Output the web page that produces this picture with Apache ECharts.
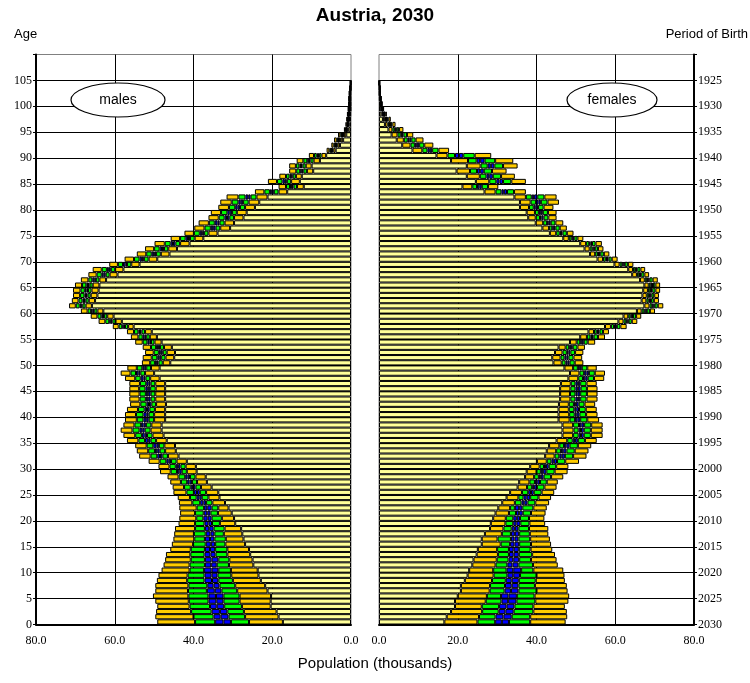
<!DOCTYPE html>
<html><head><meta charset="utf-8">
<script src="https://cdn.jsdelivr.net/npm/echarts@6/dist/echarts.min.js"></script>
<style>html,body{margin:0;padding:0;background:#fff}#c{width:750px;height:683px}</style>
</head><body><div id="c"></div>
<script>
const ages = [0,1,2,3,4,5,6,7,8,9,10,11,12,13,14,15,16,17,18,19,20,21,22,23,24,25,26,27,28,29,30,31,32,33,34,35,36,37,38,39,40,41,42,43,44,45,46,47,48,49,50,51,52,53,54,55,56,57,58,59,60,61,62,63,64,65,66,67,68,69,70,71,72,73,74,75,76,77,78,79,80,81,82,83,84,85,86,87,88,89,90,91,92,93,94,95,96,97,98,99,100,101,102,103,104];
const emptyTopRows = [105,106,107,108,109];
const xTicks = [0,20,40,60,80];
const projectionYear = 2030;

// Males: quantiles of population (thousands) by single age
const maleQ025 = [17.3,18.4,18.9,20.4,20.4,20.3,21.2,21.8,22.9,23.5,23.7,24.8,25.0,25.6,25.9,26.9,27.3,27.6,27.9,29.4,29.7,30.3,31.1,32.0,33.4,33.7,35.4,36.6,36.9,39.2,39.4,41.7,43.8,44.5,44.7,46.8,47.6,48.1,48.1,47.2,47.2,47.2,47.0,47.2,47.2,47.2,47.2,48.6,50.0,48.6,45.9,44.9,44.7,45.5,48.1,49.3,50.6,55.2,58.2,60.3,62.9,65.8,65.0,64.4,64.1,63.9,62.2,59.3,57.8,53.7,49.2,46.1,44.2,41.0,37.5,33.9,30.7,29.7,27.3,26.5,24.4,23.3,21.2,16.2,12.0,13.0,12.5,9.6,10.0,7.9,6.3,3.9,2.8,2.0,1.2,0.6,0.4,0.3,0.2,0.1,0.1,0.1,0.1,0.0,0.0];
const maleQ10 = [25.9,26.9,27.2,27.7,28.3,28.3,28.9,29.4,30.0,30.4,30.5,31.0,30.9,31.4,31.4,31.9,31.8,32.3,32.1,33.3,32.8,33.8,33.7,35.2,36.2,36.8,38.1,39.1,39.5,41.7,42.0,44.3,46.5,47.2,47.4,49.5,50.4,50.9,50.7,50.0,50.0,49.8,49.5,49.7,49.7,49.6,49.7,51.0,52.3,50.8,47.8,47.1,46.8,47.5,49.9,51.1,52.3,56.6,59.8,61.9,64.4,67.4,66.6,66.1,65.9,65.6,63.9,61.3,59.9,55.8,51.4,48.3,46.4,43.4,39.7,36.2,33.2,32.1,29.7,29.0,26.9,26.0,24.0,18.4,13.7,15.2,14.0,11.2,11.5,9.5,7.5,4.5,3.4,2.6,1.8,0.9,0.7,0.5,0.4,0.3,0.3,0.2,0.2,0.1,0.1];
const maleQ30 = [30.5,31.1,31.4,32.2,32.4,32.4,32.9,33.4,33.7,33.9,33.7,34.1,33.7,34.4,34.5,34.5,34.7,34.7,34.9,35.3,35.4,35.7,35.4,36.8,37.9,38.4,39.5,40.4,40.9,43.0,43.3,45.7,47.9,48.6,48.8,50.9,51.8,52.4,52.1,51.4,51.4,51.2,50.7,50.9,50.9,51.0,50.9,52.2,53.5,52.0,48.9,48.2,47.8,48.5,50.8,52.0,53.2,57.4,60.6,62.7,65.2,68.2,67.4,66.9,66.8,66.4,64.8,62.3,61.0,56.9,52.6,49.5,47.5,44.6,40.9,37.3,34.4,33.4,30.9,30.2,28.2,27.4,25.5,19.6,14.6,16.3,14.8,12.1,12.3,10.3,8.1,4.8,3.7,2.9,2.1,1.1,0.8,0.7,0.5,0.4,0.3,0.3,0.3,0.2,0.1];
const maleMed = [32.4,33.1,33.3,34.1,34.2,34.3,34.6,34.9,35.3,35.4,35.4,35.5,35.4,35.7,35.8,35.6,35.8,35.7,36.0,36.2,36.4,36.5,36.5,37.5,38.5,39.1,40.1,41.0,41.5,43.6,43.9,46.3,48.5,49.2,49.4,51.5,52.4,53.0,52.7,52.0,51.9,51.8,51.3,51.5,51.5,51.6,51.4,52.7,54.0,52.5,49.3,48.7,48.3,49.0,51.2,52.4,53.6,57.7,61.0,63.0,65.6,68.5,67.8,67.3,67.2,66.8,65.2,62.8,61.5,57.3,53.1,50.0,48.0,45.2,41.4,37.8,35.0,33.9,31.5,30.8,28.8,28.0,26.1,20.1,15.0,16.8,15.2,12.5,12.7,10.7,8.4,5.0,3.8,3.1,2.2,1.2,0.9,0.7,0.6,0.4,0.4,0.3,0.3,0.2,0.1];
const maleQ70 = [34.5,34.9,35.4,35.8,36.2,36.2,36.6,36.5,37.2,37.2,37.3,37.1,37.1,37.2,37.1,36.9,37.1,36.9,37.1,37.2,37.5,37.4,37.3,38.3,39.2,39.9,40.7,41.6,42.1,44.2,44.5,46.9,49.2,49.8,50.2,52.3,53.1,53.7,53.3,52.7,52.7,52.4,51.9,52.1,52.1,52.2,52.0,53.4,54.6,53.0,49.8,49.2,48.8,49.5,51.7,52.9,54.0,58.1,61.4,63.4,66.0,68.9,68.2,67.7,67.6,67.2,65.7,63.3,62.0,57.9,53.7,50.6,48.6,45.8,42.0,38.4,35.6,34.6,32.1,31.4,29.4,28.6,26.8,20.6,15.5,17.4,15.6,12.9,13.1,11.1,8.7,5.1,4.0,3.2,2.3,1.2,0.9,0.8,0.6,0.5,0.4,0.4,0.3,0.2,0.1];
const maleQ90 = [39.6,40.0,40.6,41.0,41.2,41.3,41.4,41.3,41.6,41.5,41.0,41.0,40.7,40.8,40.7,40.1,39.8,39.9,39.6,39.6,39.3,39.6,39.2,40.3,40.9,41.8,42.4,43.2,43.8,45.8,46.1,48.6,50.9,51.5,51.9,54.0,54.8,55.5,55.0,54.4,54.6,54.1,53.5,53.7,53.7,53.8,53.6,54.8,56.0,54.4,51.0,50.6,50.1,50.8,52.9,54.0,55.1,59.0,62.4,64.4,66.9,69.9,69.2,68.8,68.7,68.3,66.7,64.6,63.3,59.2,55.1,52.0,50.0,47.3,43.4,39.9,37.2,36.1,33.6,33.0,31.0,30.3,28.6,22.0,16.5,18.8,16.5,13.9,14.0,12.1,9.4,5.5,4.4,3.6,2.7,1.5,1.1,0.9,0.8,0.6,0.5,0.5,0.4,0.3,0.2];
const maleQ975 = [49.2,49.7,49.5,49.2,49.7,50.3,49.7,49.7,49.3,48.9,48.1,47.6,47.2,47.0,45.9,45.5,45.1,44.9,44.7,43.8,43.6,43.4,43.6,43.7,44.0,45.1,45.3,45.9,46.6,48.5,48.9,51.4,53.8,54.4,54.8,56.9,57.8,58.5,57.8,57.4,57.4,56.9,56.1,56.3,56.3,56.3,56.3,57.4,58.5,56.8,53.1,52.9,52.3,52.9,54.8,55.9,56.9,60.5,64.1,66.1,68.6,71.6,70.9,70.6,70.6,70.1,68.6,66.7,65.6,61.4,57.5,54.4,52.3,49.9,45.8,42.3,39.8,38.7,36.2,35.6,33.7,33.2,31.6,24.4,18.4,21.1,18.2,15.7,15.7,13.8,10.7,6.2,5.0,4.3,3.3,1.8,1.4,1.2,1.0,0.8,0.7,0.6,0.5,0.4,0.2];

// Females
const femaleQ025 = [16.6,17.2,18.3,19.3,19.3,20.0,20.8,20.8,21.8,22.5,22.9,23.7,24.0,24.8,25.1,26.1,26.1,26.9,28.2,28.4,29.0,29.6,30.3,31.3,32.4,33.3,35.2,35.6,37.1,37.5,38.4,40.1,42.2,42.6,43.2,45.1,46.6,46.6,46.6,45.6,45.6,45.6,45.7,46.0,46.0,46.0,46.2,48.1,48.5,47.1,44.3,44.0,44.7,45.6,48.5,51.1,53.2,57.4,60.8,62.1,65.5,67.4,66.7,66.9,67.1,67.4,66.3,64.3,63.3,59.8,55.5,53.6,52.2,51.1,46.8,43.4,41.5,39.8,37.9,37.5,35.8,35.8,34.4,26.8,21.2,24.6,22.3,19.7,22.3,18.3,14.6,8.5,5.9,4.5,3.2,2.4,1.5,1.0,0.6,0.4,0.3,0.2,0.1,0.1,0.0];
const femaleQ10 = [25.0,25.4,26.2,26.1,27.1,27.4,28.1,28.2,28.7,29.1,29.0,29.6,29.9,30.2,30.0,30.9,30.1,31.2,31.6,32.1,32.2,33.0,33.3,34.5,35.4,36.3,37.6,38.2,39.4,40.0,40.8,42.6,44.6,45.0,45.8,47.8,49.3,49.4,49.3,48.4,48.3,48.2,48.2,48.6,48.5,48.6,48.7,50.6,50.9,49.3,46.4,46.1,46.6,47.4,50.2,52.8,54.6,58.9,62.1,63.3,66.7,68.7,67.9,68.0,68.3,68.5,67.5,65.5,64.5,61.1,56.9,54.9,53.5,52.6,48.2,45.0,43.2,41.7,39.8,39.6,38.1,38.5,37.3,29.6,23.7,28.0,25.6,23.1,25.8,22.6,17.4,11.0,8.0,6.3,4.7,3.4,2.2,1.5,1.0,0.6,0.4,0.3,0.2,0.1,0.1];
const femaleQ30 = [29.5,29.6,30.4,30.5,31.1,31.0,31.9,32.0,32.2,32.6,32.4,32.6,32.9,33.0,33.0,33.3,33.5,33.5,33.7,34.1,34.1,34.8,34.5,36.2,36.7,37.9,38.9,39.6,40.6,41.1,41.9,43.8,45.8,46.2,47.0,49.2,50.7,50.7,50.8,49.8,49.7,49.6,49.5,49.9,49.9,49.9,49.9,51.8,52.1,50.5,47.4,47.1,47.7,48.3,51.1,53.7,55.3,59.7,62.8,63.9,67.4,69.4,68.5,68.6,68.9,69.0,68.1,66.1,65.1,61.8,57.6,55.6,54.2,53.4,48.9,45.9,44.0,42.7,40.9,40.6,39.3,39.9,38.8,31.1,24.9,29.8,27.3,24.9,27.6,24.8,19.3,12.3,9.1,7.3,5.5,4.0,2.6,1.8,1.2,0.8,0.5,0.4,0.2,0.2,0.1];
const femaleMed = [31.2,31.6,32.1,32.4,32.8,32.9,33.5,33.7,33.7,34.1,34.1,33.9,34.1,34.2,34.2,34.4,34.4,34.5,34.5,34.9,35.0,35.6,35.6,36.9,37.5,38.6,39.4,40.2,41.1,41.7,42.4,44.4,46.4,46.8,47.6,49.8,51.3,51.3,51.4,50.4,50.2,50.1,50.0,50.5,50.4,50.5,50.5,52.4,52.7,51.0,47.9,47.6,48.1,48.8,51.5,54.1,55.6,60.0,63.1,64.2,67.7,69.7,68.8,68.9,69.1,69.3,68.4,66.3,65.3,62.1,57.9,55.9,54.5,53.7,49.2,46.2,44.4,43.1,41.3,41.1,39.8,40.5,39.4,31.7,25.5,30.6,28.0,25.7,28.4,25.7,20.3,12.9,9.6,7.7,5.8,4.2,2.8,1.9,1.3,0.8,0.6,0.4,0.3,0.2,0.1];
const femaleQ70 = [33.0,33.7,34.2,34.4,34.9,35.0,35.4,35.4,35.5,35.8,36.1,35.4,35.6,35.5,35.5,35.6,35.4,35.6,35.4,35.9,35.8,36.5,36.4,37.7,38.4,39.3,40.1,40.9,41.8,42.5,43.1,45.2,47.2,47.6,48.4,50.5,52.0,52.0,52.1,51.1,50.9,50.8,50.7,51.1,51.1,51.2,51.1,53.0,53.3,51.5,48.4,48.1,48.6,49.2,52.0,54.5,56.0,60.4,63.4,64.5,68.0,70.0,69.1,69.2,69.4,69.6,68.7,66.6,65.6,62.4,58.3,56.2,54.8,54.1,49.6,46.6,44.8,43.6,41.8,41.6,40.4,41.1,40.2,32.5,26.1,31.5,28.9,26.6,29.3,26.8,21.4,13.5,10.2,8.2,6.2,4.5,3.0,2.1,1.4,0.9,0.6,0.4,0.3,0.2,0.1];
const femaleQ90 = [38.4,38.4,39.2,39.2,39.7,39.5,40.0,39.6,39.8,40.0,39.2,39.1,38.6,38.9,38.5,38.6,38.4,38.3,38.1,38.2,38.1,38.6,39.2,39.7,40.5,41.3,42.0,42.6,43.7,44.6,45.0,47.3,49.3,49.7,50.5,52.3,53.8,53.8,53.9,52.9,52.6,52.5,52.2,52.7,52.8,52.8,52.7,54.6,54.8,52.9,49.7,49.4,49.8,50.4,53.0,55.6,56.9,61.3,64.2,65.3,68.8,70.8,69.8,69.9,70.2,70.2,69.5,67.4,66.4,63.2,59.1,57.1,55.6,55.0,50.4,47.7,45.9,44.8,43.0,42.9,41.8,42.8,42.0,34.3,27.7,33.6,31.0,28.7,31.5,29.5,24.3,15.1,11.5,9.3,7.1,5.1,3.4,2.4,1.6,1.0,0.7,0.5,0.3,0.3,0.2];
const femaleQ975 = [47.4,47.8,47.7,47.2,48.1,48.3,47.9,47.7,47.2,47.1,46.8,45.4,45.1,44.7,44.0,43.7,43.4,43.0,43.0,42.2,42.0,42.3,42.6,43.2,43.7,44.5,45.1,45.4,46.8,47.9,48.1,50.8,52.7,53.2,53.9,55.3,56.8,56.8,56.8,55.9,55.5,55.3,54.9,55.5,55.5,55.5,55.3,57.2,57.4,55.3,51.9,51.6,51.9,52.3,54.9,57.4,58.4,62.9,65.6,66.6,70.1,72.2,71.1,71.1,71.4,71.4,70.8,68.6,67.6,64.6,60.6,58.5,57.0,56.6,51.9,49.4,47.7,46.8,45.1,45.1,44.3,45.7,45.1,37.3,30.3,37.3,34.5,32.4,35.2,34.1,28.5,17.8,13.8,11.3,8.7,6.2,4.2,3.0,2.0,1.3,0.9,0.6,0.4,0.3,0.2];

const YEL = '#FFFF99', ORA = '#FFCC00', GRN = '#00FF00', BLU = '#0000FF';
const segColors = [YEL, ORA, GRN, BLU, BLU, GRN, ORA];

function diff(a, b) { return a.map((v, i) => Math.max(0, Math.round((v - b[i]) * 10) / 10)); }
function buildSeries(stack, q, xi, yi) {
  const parts = [q[0], diff(q[1], q[0]), diff(q[2], q[1]), diff(q[3], q[2]), diff(q[4], q[3]), diff(q[5], q[4]), diff(q[6], q[5])];
  return parts.map((d, i) => ({
    type: 'bar', name: stack + i, xAxisIndex: xi, yAxisIndex: yi, stack: stack,
    data: d, barCategoryGap: '0%', silent: true,
    itemStyle: { color: segColors[i], borderColor: '#000', borderWidth: 1 }
  }));
}

const slots = ages.concat(emptyTopRows);
const serif = 'Liberation Serif';
const sans = 'Liberation Sans';
const G = { top: 54.5, height: 570, width: 315 };

function xAxisCfg(gi, inverse) {
  return {
    gridIndex: gi, type: 'value', min: 0, max: 80, interval: 20, inverse: inverse,
    axisLine: { show: true, onZero: false, lineStyle: { color: '#000', width: 2 } },
    axisTick: { show: false },
    axisLabel: { formatter: v => v.toFixed(1), fontFamily: serif, fontSize: 12, color: '#000', margin: 10 },
    splitLine: { show: true, showMinLine: false, showMaxLine: false, lineStyle: { color: '#000', width: 1 } }
  };
}
function yValueCfg(gi, pos, fmt) {
  return {
    gridIndex: gi, type: 'value', min: 0, max: 110, interval: 5, position: pos,
    axisLine: { show: true, onZero: false, lineStyle: { color: '#000', width: 2 } },
    axisTick: { show: true, inside: false, length: 3, lineStyle: { color: '#000', width: 1 } },
    axisLabel: { formatter: fmt, fontFamily: serif, fontSize: 12, color: '#000', margin: 4 },
    splitLine: { show: true, showMinLine: false, showMaxLine: false, lineStyle: { color: '#000', width: 1 } }
  };
}

const chart = echarts.init(document.getElementById('c'), null, { renderer: 'canvas' });
chart.setOption({
  animation: false,
  backgroundColor: '#fff',
  grid: [
    { left: 36, top: G.top, width: G.width, height: G.height, show: true, borderColor: '#808080', borderWidth: 1, backgroundColor: 'transparent' },
    { left: 379, top: G.top, width: G.width, height: G.height, show: true, borderColor: '#808080', borderWidth: 1, backgroundColor: 'transparent' }
  ],
  xAxis: [xAxisCfg(0, true), xAxisCfg(1, false)],
  yAxis: [
    { gridIndex: 0, type: 'category', data: slots, show: false, boundaryGap: true },
    yValueCfg(0, 'left', v => v > 105 ? '' : String(v)),
    { gridIndex: 1, type: 'category', data: slots, show: false, boundaryGap: true },
    yValueCfg(1, 'right', v => v > 105 ? '' : String(projectionYear - v))
  ],
  series: buildSeries('male', [maleQ025, maleQ10, maleQ30, maleMed, maleQ70, maleQ90, maleQ975], 0, 0)
    .concat(buildSeries('female', [femaleQ025, femaleQ10, femaleQ30, femaleMed, femaleQ70, femaleQ90, femaleQ975], 1, 2)),
  graphic: [
    { type: 'text', left: 'center', top: 6, style: { text: 'Austria, 2030', font: 'bold 19px "Liberation Sans"', fill: '#000' } },
    { type: 'text', left: 14, top: 28, style: { text: 'Age', font: '13px "Liberation Sans"', fill: '#000' } },
    { type: 'text', right: 2, top: 28, style: { text: 'Period of Birth', font: '13px "Liberation Sans"', fill: '#000' } },
    { type: 'text', left: 'center', top: 656, style: { text: 'Population (thousands)', font: '15px "Liberation Sans"', fill: '#000' } },
    { type: 'ellipse', shape: { cx: 118, cy: 100, rx: 47, ry: 17 }, style: { fill: '#fff', stroke: '#000', lineWidth: 1.2 }, z: 100 },
    { type: 'text', x: 118, y: 100, style: { text: 'males', font: '14px "Liberation Sans"', fill: '#000', align: 'center', verticalAlign: 'middle' }, z: 101 },
    { type: 'ellipse', shape: { cx: 612, cy: 100, rx: 45, ry: 17 }, style: { fill: '#fff', stroke: '#000', lineWidth: 1.2 }, z: 100 },
    { type: 'text', x: 612, y: 100, style: { text: 'females', font: '14px "Liberation Sans"', fill: '#000', align: 'center', verticalAlign: 'middle' }, z: 101 }
  ]
});
</script></body></html>
